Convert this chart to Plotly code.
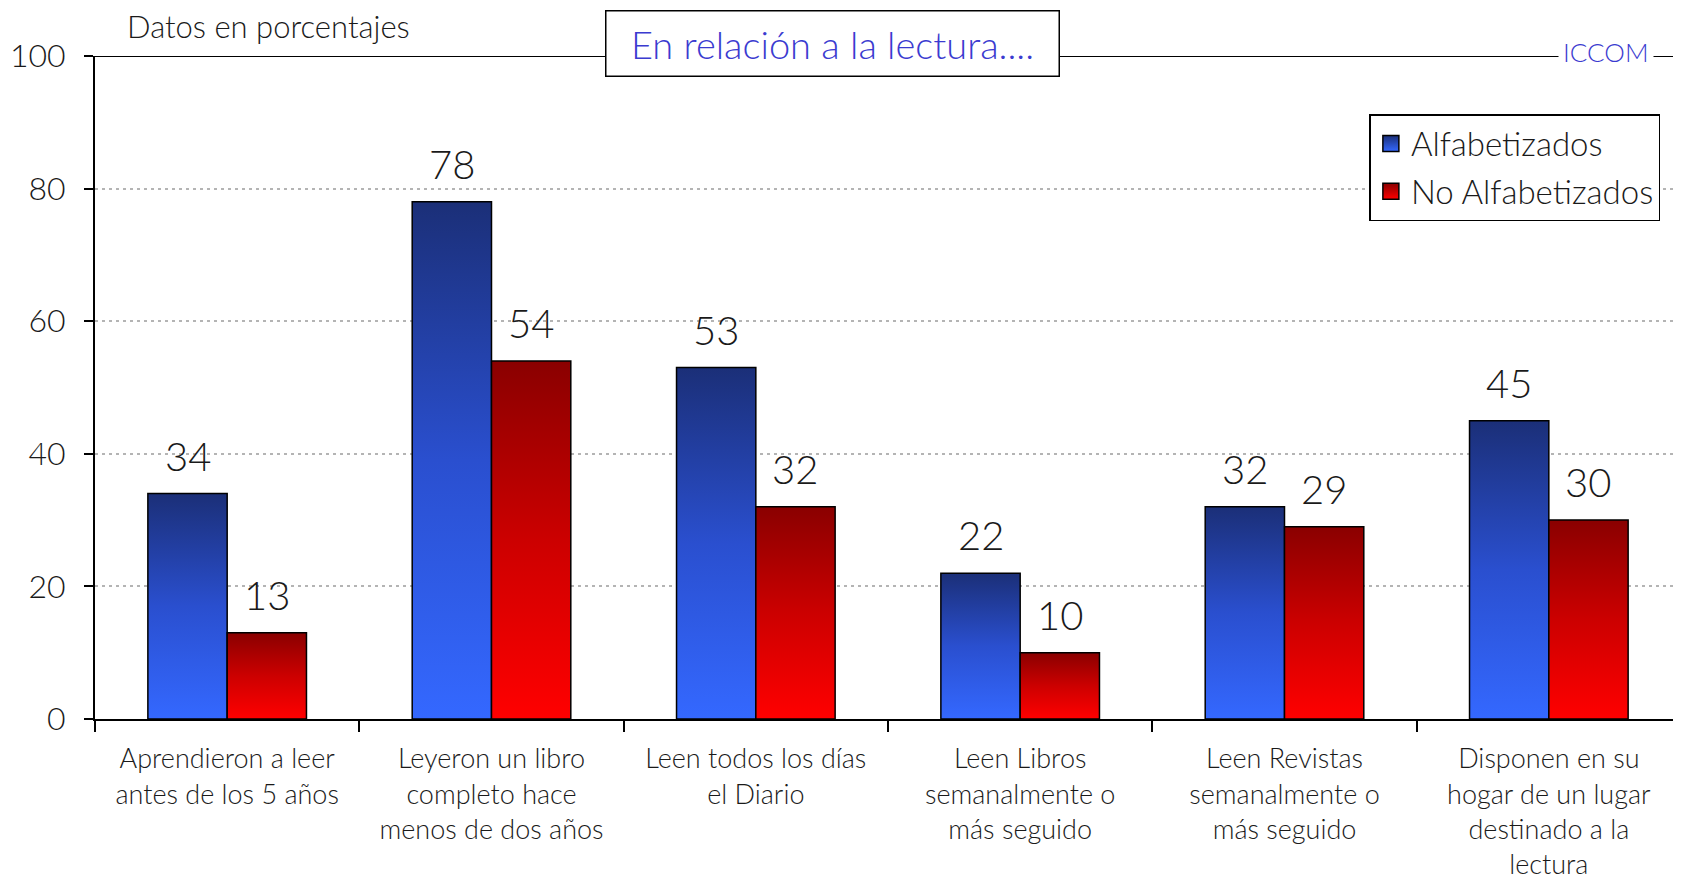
import plotly.graph_objects as go

categories = [
    "Aprendieron a leer<br>antes de los 5 años",
    "Leyeron un libro<br>completo hace<br>menos de dos años",
    "Leen todos los días<br>el Diario",
    "Leen Libros<br>semanalmente o<br>más seguido",
    "Leen Revistas<br>semanalmente o<br>más seguido",
    "Disponen en su<br>hogar de un lugar<br>destinado a la<br>lectura",
]
alfabetizados = [34, 78, 53, 22, 32, 45]
no_alfabetizados = [13, 54, 32, 10, 29, 30]
y_ticks = [0, 20, 40, 60, 80, 100]

FONT = "Lato"
TXT = "#1a1a1a"
BLUE = "#3b3bd0"
bar_w = 0.3

series = [
    ("Alfabetizados", alfabetizados, -bar_w, [[0, "#3468ff"], [0.5, "#2a4fcf"], [1, "#1b2f78"]]),
    ("No Alfabetizados", no_alfabetizados, 0.0, [[0, "#ff0000"], [0.5, "#cc0000"], [1, "#8a0000"]]),
]

fig = go.Figure()
annotations = []
for name, vals, off, scale in series:
    for i, v in enumerate(vals):
        x0, x1 = i + off, i + off + bar_w
        fig.add_trace(go.Scatter(
            x=[x0, x0, x1, x1, x0],
            y=[0, v, v, 0, 0],
            mode="lines",
            fill="toself",
            fillgradient=dict(type="vertical", start=0, stop=v, colorscale=scale),
            line=dict(color="black", width=1.5),
            name=name,
            legendgroup=name,
            showlegend=False,
            hoverinfo="skip",
        ))
        annotations.append(dict(
            x=(x0 + x1) / 2, y=v, xref="x", yref="y", text=str(v),
            showarrow=False, yanchor="bottom", yshift=12,
            font=dict(family=FONT, size=40, color=TXT, weight=300),
        ))
    # legend swatch
    fig.add_trace(go.Scatter(
        x=[None], y=[None], mode="markers", name=name, legendgroup=name,
        marker=dict(symbol="square", size=20, color=scale[-1][1],
                    gradient=dict(type="vertical", color=scale[0][1]),
                    line=dict(color="black", width=1.5)),
    ))

annotations += [
    dict(text="En relación a la lectura....", xref="paper", yref="paper",
         x=0.465, y=1.0196, xanchor="center", yanchor="middle", showarrow=False,
         width=450, height=62, bgcolor="white", bordercolor="black", borderwidth=1.5,
         font=dict(family=FONT, size=38, color=BLUE, weight=300)),
    dict(text="ICCOM", xref="paper", yref="paper", x=0.953, y=1.006,
         xanchor="center", yanchor="middle", showarrow=False, bgcolor="white", borderpad=4,
         font=dict(family=FONT, size=26, color=BLUE, weight=300)),
    dict(text="Datos en porcentajes", xref="paper", yref="paper", x=0.019, y=1.045,
         xanchor="left", yanchor="middle", showarrow=False,
         font=dict(family=FONT, size=31, color=TXT, weight=300)),
]

fig.add_shape(type="line", xref="paper", yref="y", x0=0, x1=1, y0=100, y1=100,
              line=dict(color="black", width=2), layer="below")

fig.update_xaxes(
    range=[-0.5, 5.5], tickmode="array", tickvals=list(range(len(categories))),
    ticktext=categories, ticks="", ticklabelstandoff=15, automargin=False,
    showline=True, linecolor="black", linewidth=2, showgrid=False, zeroline=False,
    tickfont=dict(family=FONT, size=27, color=TXT, weight=300),
    minor=dict(ticks="outside", tickmode="array",
               tickvals=[i - 0.5 for i in range(len(categories))],
               ticklen=11, tickwidth=1.5, tickcolor="black", showgrid=False),
)
fig.update_yaxes(
    range=[0, 100], tickmode="array", tickvals=y_ticks, ticks="outside", ticklen=9,
    tickwidth=1.5, tickcolor="black", showline=True, linecolor="black", linewidth=2,
    showgrid=True, gridcolor="#b4b4b4", griddash="3px,4px", gridwidth=1.5, zeroline=False,
    automargin=False, ticklabelstandoff=12,
    tickfont=dict(family=FONT, size=32, color=TXT, weight=300),
)
fig.update_layout(
    width=1673, height=874,
    margin=dict(l=87, r=0, t=48, b=163),
    plot_bgcolor="white", paper_bgcolor="white",
    annotations=annotations,
    legend=dict(x=0.987, y=0.9125, xanchor="right", yanchor="top",
                bgcolor="white", bordercolor="black", borderwidth=1.5,
                itemwidth=30, tracegroupgap=2,
                font=dict(family=FONT, size=33, color=TXT, weight=300)),
)
fig.write_html("out.html")
